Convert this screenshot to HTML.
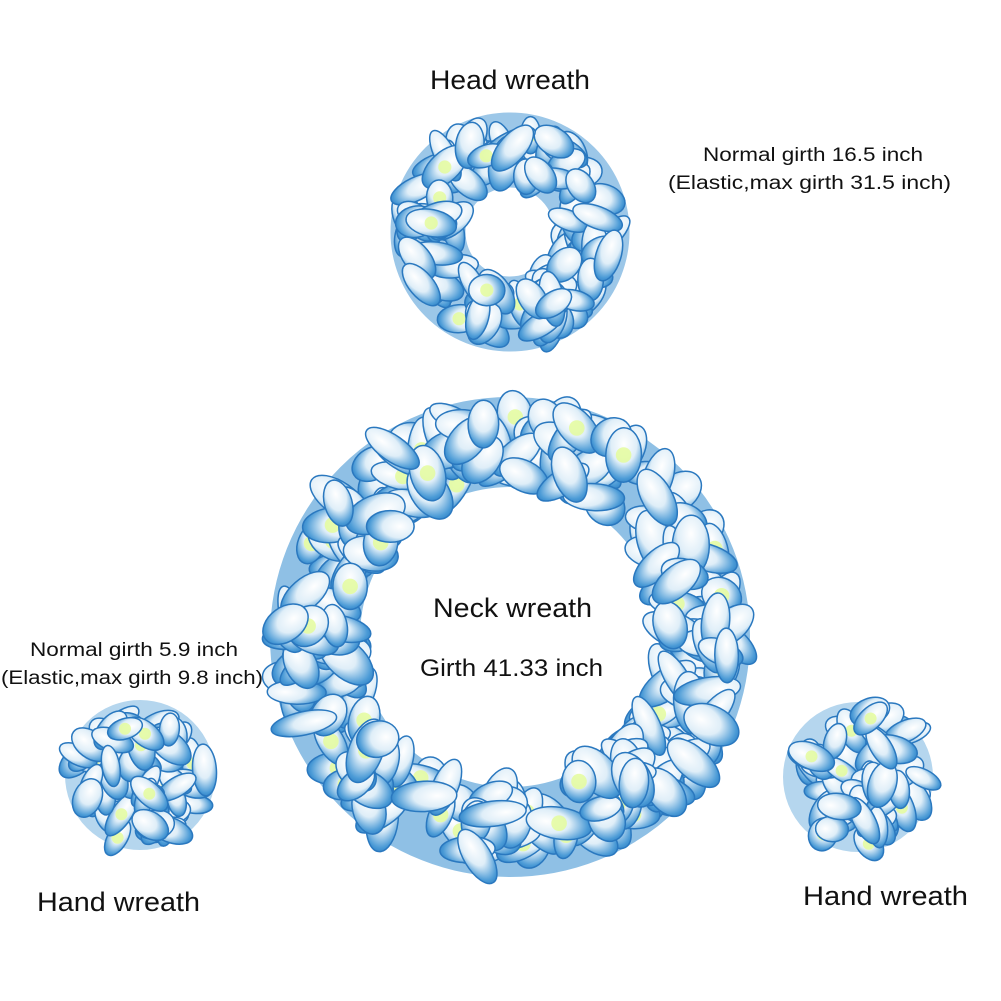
<!DOCTYPE html>
<html><head><meta charset="utf-8">
<style>
html,body{margin:0;padding:0;background:#fff;}
svg{display:block}
text{font-family:"Liberation Sans",Arial,sans-serif;fill:#111}
</style></head>
<body>
<svg id="s" width="1001" height="1001" viewBox="0 0 1001 1001" xmlns="http://www.w3.org/2000/svg">
<defs>
<radialGradient id="pg" cx="30%" cy="50%" r="80%">
<stop offset="0" stop-color="#ffffff"/>
<stop offset="0.45" stop-color="#dfeef8"/>
<stop offset="0.8" stop-color="#4a9ad6"/>
<stop offset="1" stop-color="#1f6fb8"/>
</radialGradient>
</defs>
<rect width="1001" height="1001" fill="#fff"/>
<g id="w">
<circle cx="510" cy="637" r="195" fill="none" stroke="#8fc0e5" stroke-width="90"/>
<circle cx="510" cy="232" r="82" fill="none" stroke="#9cc7e8" stroke-width="75"/>
<circle cx="140" cy="775" r="40" fill="none" stroke="#b5d6ee" stroke-width="70"/>
<circle cx="858" cy="777" r="40" fill="none" stroke="#b5d6ee" stroke-width="70"/>
</g>
<text x="430" y="89" font-size="27" textLength="160" lengthAdjust="spacingAndGlyphs">Head wreath</text>
<text x="703" y="161" font-size="19" textLength="220" lengthAdjust="spacingAndGlyphs">Normal girth 16.5 inch</text>
<text x="668" y="189" font-size="19" textLength="283" lengthAdjust="spacingAndGlyphs">(Elastic,max girth 31.5 inch)</text>
<text x="433" y="617" font-size="27" textLength="159" lengthAdjust="spacingAndGlyphs">Neck wreath</text>
<text x="420" y="676" font-size="24" textLength="183" lengthAdjust="spacingAndGlyphs">Girth 41.33 inch</text>
<text x="30" y="656" font-size="19" textLength="208" lengthAdjust="spacingAndGlyphs">Normal girth 5.9 inch</text>
<text x="1" y="684" font-size="19" textLength="262" lengthAdjust="spacingAndGlyphs">(Elastic,max girth 9.8 inch)</text>
<text x="37" y="911" font-size="27" textLength="163" lengthAdjust="spacingAndGlyphs">Hand wreath</text>
<text x="803" y="905" font-size="27" textLength="165" lengthAdjust="spacingAndGlyphs">Hand wreath</text>
</svg>
<script>
(function(){
var ns="http://www.w3.org/2000/svg",g=document.getElementById("w");
var seed=7;function r(){seed=(seed*9301+49297)%233280;return seed/233280;}
function ring(cx,cy,rin,rout,n,ps){
 for(var i=0;i<n;i++){
  var a=r()*Math.PI*2,d=rin+r()*(rout-rin);
  var x=cx+Math.cos(a)*d,y=cy+Math.sin(a)*d;
  var e=document.createElementNS(ns,"ellipse");
  e.setAttribute("cx",x.toFixed(1));e.setAttribute("cy",y.toFixed(1));
  e.setAttribute("rx",(ps*(0.8+r()*0.5)).toFixed(1));e.setAttribute("ry",(ps*0.55*(0.8+r()*0.5)).toFixed(1));
  e.setAttribute("transform","rotate("+(r()*180).toFixed(0)+" "+x.toFixed(1)+" "+y.toFixed(1)+")");
  e.setAttribute("fill","url(#pg)");e.setAttribute("stroke","#2a78bf");e.setAttribute("stroke-width","1.5");
  g.appendChild(e);
  if(r()<0.25){var c=document.createElementNS(ns,"circle");c.setAttribute("cx",x.toFixed(1));c.setAttribute("cy",y.toFixed(1));c.setAttribute("r",(ps*0.3).toFixed(1));c.setAttribute("fill","#e4fb9c");c.setAttribute("opacity","0.85");g.appendChild(c);}
 }
}
ring(510,637,160,225,340,26);
ring(510,232,55,105,130,22);
ring(140,775,10,68,80,20);
ring(858,777,10,68,80,20);
})();
</script>
</body></html>
